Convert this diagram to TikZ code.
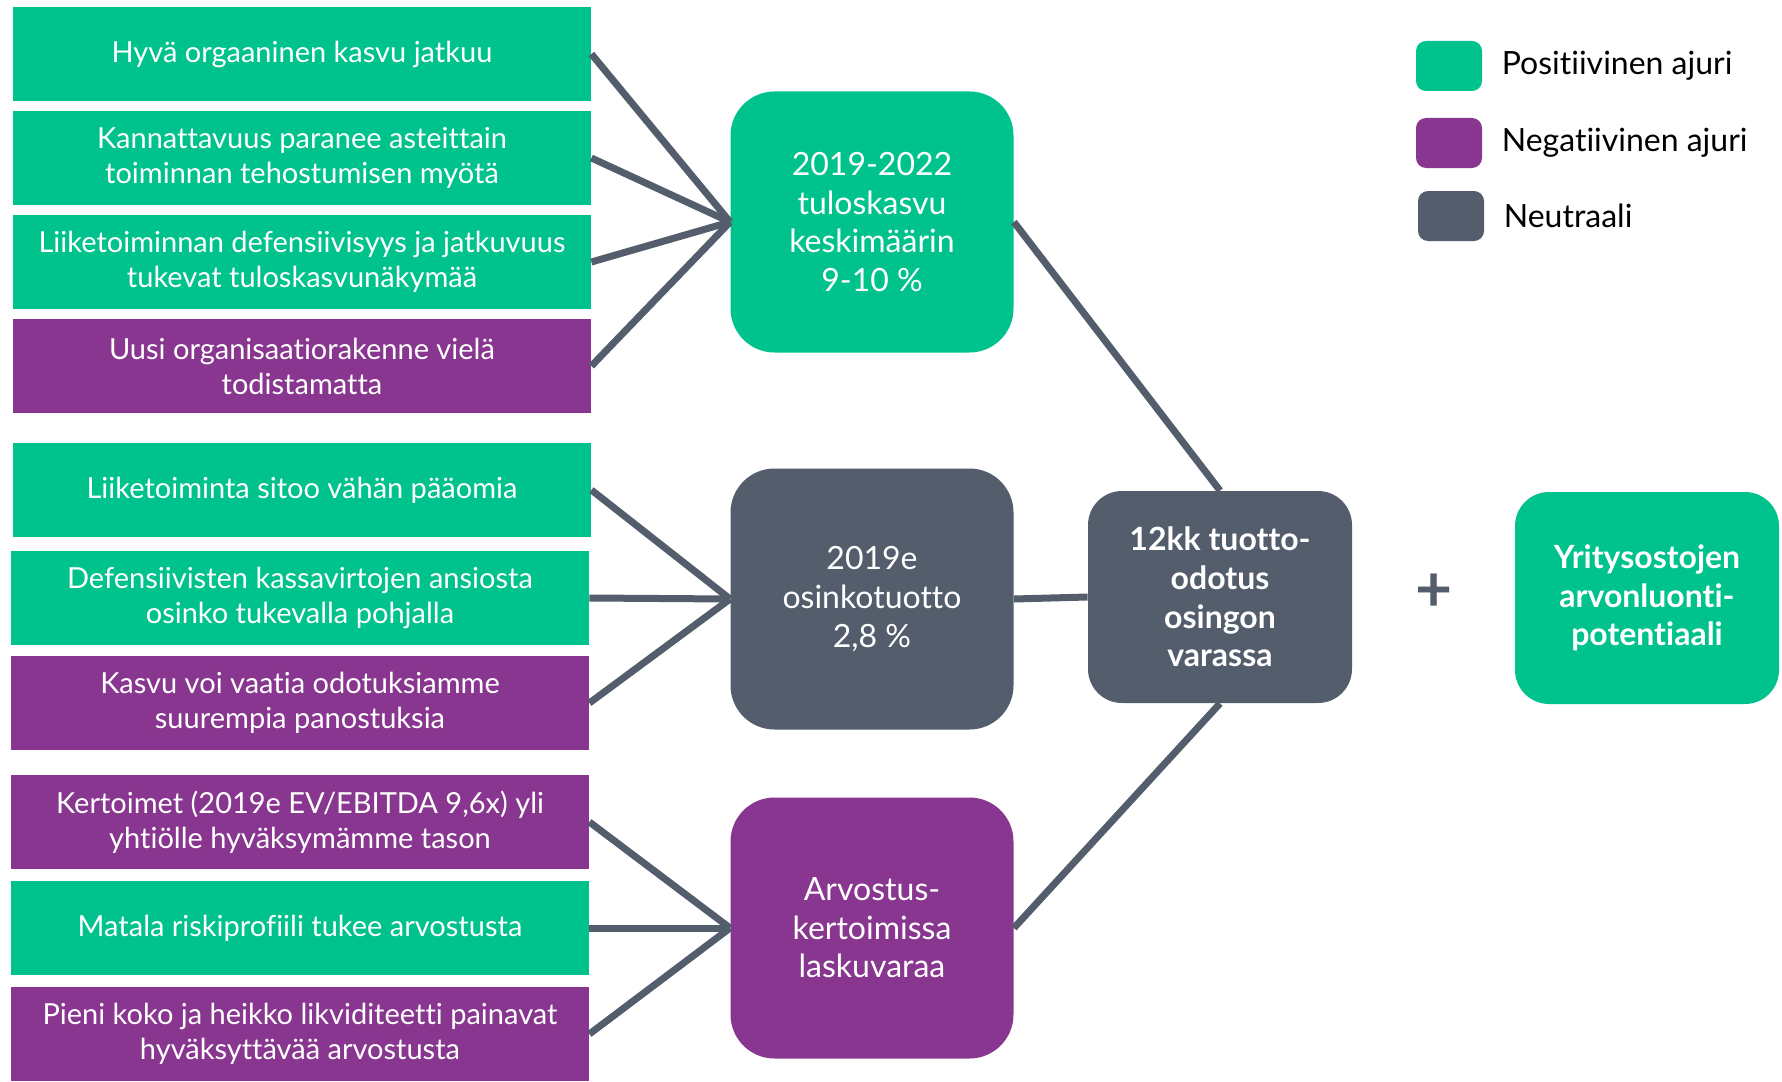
\documentclass[tikz,border=0pt]{standalone}
\usepackage{fontspec}
\setmainfont{Lato}[Ligatures=NoCommon]
\usetikzlibrary{positioning}
\definecolor{posgreen}{RGB}{0,194,140}
\definecolor{negpurple}{RGB}{136,54,143}
\definecolor{neutgray}{RGB}{83,93,108}

\begin{document}
\begin{tikzpicture}[x=0.5pt,y=-0.5pt,
      driver/.style={rectangle,minimum width=289pt,minimum height=47pt,align=center,
        text=white,inner sep=0pt,font=\fontsize{14.5}{17.5}\selectfont},
      main node/.style={rectangle,rounded corners=22pt,minimum width=141.5pt,minimum height=130.5pt,
        align=center,text=white,inner sep=0pt,font=\fontsize{16}{19.3}\selectfont},
      result node/.style={rectangle,rounded corners=17pt,minimum width=132pt,minimum height=106pt,
        align=center,text=white,inner sep=0pt,font=\fontsize{16}{19.3}\selectfont\bfseries},
      key node/.style={rectangle,rounded corners=5pt,minimum width=33pt,minimum height=25pt,inner sep=0pt},
      key label/.style={anchor=west,inner sep=0pt,font=\fontsize{16}{19}\selectfont},
      positive/.style={fill=posgreen},negative/.style={fill=negpurple},neutral/.style={fill=neutgray},
      link/.style={draw=neutgray,line width=3.5pt}]
      \useasboundingbox (0,0) rectangle (1782,1081);

      % drivers
      \node[driver,positive] (d1) at (302,54) {Hyvä orgaaninen kasvu jatkuu};
      \node[driver,positive] (d2) at (302,158) {Kannattavuus paranee asteittain\\toiminnan tehostumisen myötä};
      \node[driver,positive] (d3) at (302,262) {Liiketoiminnan defensiivisyys ja jatkuvuus\\tukevat tuloskasvunäkymää};
      \node[driver,negative] (d4) at (302,366) {Uusi organisaatiorakenne vielä\\todistamatta};
      \node[driver,positive] (d5) at (302,490) {Liiketoiminta sitoo vähän pääomia};
      \node[driver,positive] (d6) at (300,598) {Defensiivisten kassavirtojen ansiosta\\osinko tukevalla pohjalla};
      \node[driver,negative] (d7) at (300,703) {Kasvu voi vaatia odotuksiamme\\suurempia panostuksia};
      \node[driver,negative] (d8) at (300,822) {Kertoimet (2019e EV/EBITDA 9,6x) yli\\yhtiölle hyväksymämme tason};
      \node[driver,positive] (d9) at (300,928) {Matala riskiprofiili tukee arvostusta};
      \node[driver,negative] (d10) at (300,1034) {Pieni koko ja heikko likviditeetti painavat\\hyväksyttävää arvostusta};

      % components
      \node[main node,positive] (growth) at (872,222) {2019-2022\\tuloskasvu\\keskimäärin\\9-10 \%};
      \node[main node,neutral] (yield) at (872,599) {2019e\\osinkotuotto\\2,8 \%};
      \node[main node,negative] (valuation) at (872,928) {Arvostus-\\kertoimissa\\laskuvaraa};
      \node[result node,neutral] (total) at (1220,597) {12kk tuotto-\\odotus\\osingon\\varassa};
      \node[text=neutgray,font=\fontsize{32}{32}\selectfont\bfseries,inner sep=0pt] (plus) at (1434,593) {+};
      \node[result node,positive] (acq) at (1647,598) {Yritysostojen\\arvonluonti-\\potentiaali};

      % legend
      \node[key node,positive] (kpos) at (1449,66) {};
      \node[key node,negative] (kneg) at (1449,143) {};
      \node[key node,neutral] (kneut) at (1451,216) {};
      \node[key label,right=9.5pt of kpos] (lpos) {Positiivinen ajuri};
      \node[key label,right=9.5pt of kneg] (lneg) {Negatiivinen ajuri};
      \node[key label,right=9.5pt of kneut] (lneut) {Neutraali};

      \foreach \s/\t in {d1/growth, d2/growth, d3/growth, d4/growth, d5/yield, d6/yield, d7/yield,
          d8/valuation, d9/valuation, d10/valuation} {
          \draw[link] (\s.east) -- (\t.west);}
      \draw[link] (growth.east) -- (total.north);
      \draw[link] (yield.east) -- (total.west);
      \draw[link] (valuation.east) -- (total.south);
\end{tikzpicture}
\end{document}
